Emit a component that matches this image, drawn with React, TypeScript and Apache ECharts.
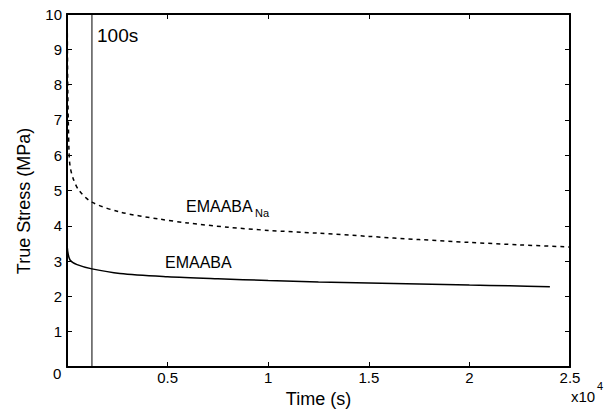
import React, { useEffect, useRef } from "react";
import * as echarts from "echarts";

const naTime = [10, 40, 100, 150, 300, 600, 1240, 2630, 4600, 6000, 8000, 10000, 12500, 15000, 17500, 20000, 22500, 25000];
const naStress = [9.9, 7.8, 6.1, 5.7, 5.35, 5.0, 4.67, 4.39, 4.19, 4.08, 3.96, 3.87, 3.79, 3.7, 3.61, 3.53, 3.46, 3.4];

const baseTime = [0, 30, 150, 500, 1240, 2630, 5000, 7500, 10000, 12500, 15000, 17500, 20000, 22000, 24000];
const baseStress = [3.55, 3.3, 3.03, 2.9, 2.78, 2.65, 2.56, 2.5, 2.45, 2.41, 2.38, 2.35, 2.32, 2.3, 2.27];

const markerTime = 1240;
const yTicks = [0, 10];

const FONT = "Liberation Sans, Arial, sans-serif";

export default function App() {
  const ref = useRef<HTMLDivElement>(null);
  useEffect(() => {
    if (!ref.current) return;
    const chart = echarts.init(ref.current, null, { renderer: "svg" });
    const axisLine = { show: true, onZero: false, lineStyle: { color: "#000", width: 2 } };
    const tick = { show: true, inside: true, length: 5, lineStyle: { color: "#000", width: 1 } };
    chart.setOption({
      animation: false,
      backgroundColor: "#fff",
      textStyle: { fontFamily: FONT },
      grid: { left: 67, right: 42, top: 14, bottom: 48, containLabel: false },
      xAxis: [
        {
          type: "value", min: 0, max: 25000, interval: 5000,
          axisLine, axisTick: tick, splitLine: { show: false },
          axisLabel: {
            color: "#000", fontSize: 15, fontFamily: FONT, margin: 3,
            formatter: (v: number) => (v === 0 ? "" : String(v / 10000)),
          },
          name: "Time (s)", nameLocation: "middle", nameGap: 22,
          nameTextStyle: { color: "#000", fontSize: 18, fontFamily: FONT },
        },
        {
          type: "value", position: "top", min: 0, max: 25000, interval: 5000,
          axisLine, axisTick: tick, axisLabel: { show: false }, splitLine: { show: false },
        },
      ],
      yAxis: [
        {
          type: "value", min: yTicks[0], max: yTicks[1], interval: 1,
          axisLine, axisTick: tick, splitLine: { show: false },
          axisLabel: {
            color: "#000", fontSize: 15, fontFamily: FONT, margin: 5,
            formatter: (v: number) => (v === 0 ? "" : String(v)),
          },
        },
        {
          type: "value", position: "right", min: yTicks[0], max: yTicks[1], interval: 1,
          axisLine, axisTick: tick, axisLabel: { show: false }, splitLine: { show: false },
        },
      ],
      series: [
        {
          type: "line", showSymbol: false, smooth: 0.3,
          data: naTime.map((t, i) => [t, naStress[i]]),
          lineStyle: { color: "#000", width: 1.5, type: [4, 4] },
        },
        {
          type: "line", showSymbol: false, smooth: 0.3,
          data: baseTime.map((t, i) => [t, baseStress[i]]),
          lineStyle: { color: "#000", width: 1.5 },
        },
        {
          type: "line", showSymbol: false,
          data: [[markerTime, yTicks[0]], [markerTime, yTicks[1]]],
          lineStyle: { color: "#000", width: 1 },
        },
      ],
      graphic: [
        { type: "text", left: 97, top: 26, style: { text: "100s", fontSize: 19, fontFamily: FONT, fill: "#000" } },
        { type: "text", left: 186, top: 198, style: { text: "EMAABA", fontSize: 16, fontFamily: FONT, fill: "#000" } },
        { type: "text", left: 255, top: 207, style: { text: "Na", fontSize: 11, fontFamily: FONT, fill: "#000" } },
        { type: "text", left: 165, top: 254, style: { text: "EMAABA", fontSize: 16, fontFamily: FONT, fill: "#000" } },
        { type: "text", left: 571, top: 389, style: { text: "x10", fontSize: 15, fontFamily: FONT, fill: "#000" } },
        { type: "text", left: 597, top: 380, style: { text: "4", fontSize: 11, fontFamily: FONT, fill: "#000" } },
        { type: "text", left: 53, top: 366, style: { text: "0", fontSize: 15, fontFamily: FONT, fill: "#000" } },
        {
          type: "text", x: 24, y: 201, rotation: Math.PI / 2,
          style: { text: "True Stress (MPa)", fontSize: 18, fontFamily: FONT, fill: "#000", align: "center", verticalAlign: "middle" },
        },
      ],
    });
    return () => chart.dispose();
  }, []);
  return <div ref={ref} style={{ width: 612, height: 415, position: "absolute", left: 0, top: 0 }} />;
}
